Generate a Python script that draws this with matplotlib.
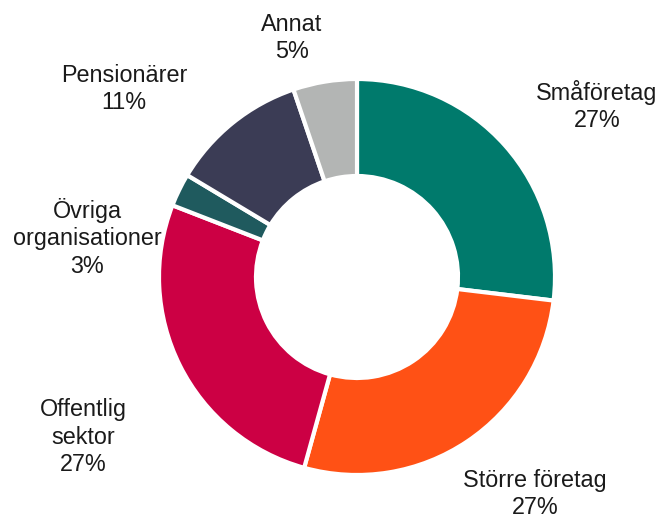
import matplotlib
matplotlib.use("Agg")
import matplotlib.pyplot as plt

categories = ["Småföretag", "Större företag", "Offentlig\nsektor", "Övriga\norganisationer", "Pensionärer", "Annat"]
values = [26.9, 27.4, 26.6, 2.7, 11.2, 5.2]
pct_labels = ["27%", "27%", "27%", "3%", "11%", "5%"]
colors = ["#007A6C", "#FF5115", "#CC0044", "#1F5A5E", "#3B3C55", "#B3B5B4"]

# label anchor positions in pixel coordinates (x, y from top)
label_pos = [(597, 106), (535, 494), (83, 437), (87, 238), (124, 89), (292, 38)]

plt.rcParams['font.family'] = ['Liberation Sans', 'DejaVu Sans']
W, H = 661, 522
fig = plt.figure(figsize=(W / 100, H / 100), dpi=100)
ax = fig.add_axes([0, 0, 1, 1])

cx, cy, R = 357, H - 277, 198
ax.pie(values, colors=colors, startangle=90, counterclock=False,
       center=(cx, cy), radius=R,
       wedgeprops=dict(width=97, edgecolor='white', linewidth=3),
       frame=True)
ax.set_xlim(0, W)
ax.set_ylim(0, H)
ax.set_aspect('equal')
ax.axis('off')

for cat, pct, (x, y) in zip(categories, pct_labels, label_pos):
    ax.text(x, H - y, f"{cat}\n{pct}", ha='center', va='center',
            fontsize=16.8, color='#1a1a1a', linespacing=1.25)

fig.savefig("out.png", dpi=100)
